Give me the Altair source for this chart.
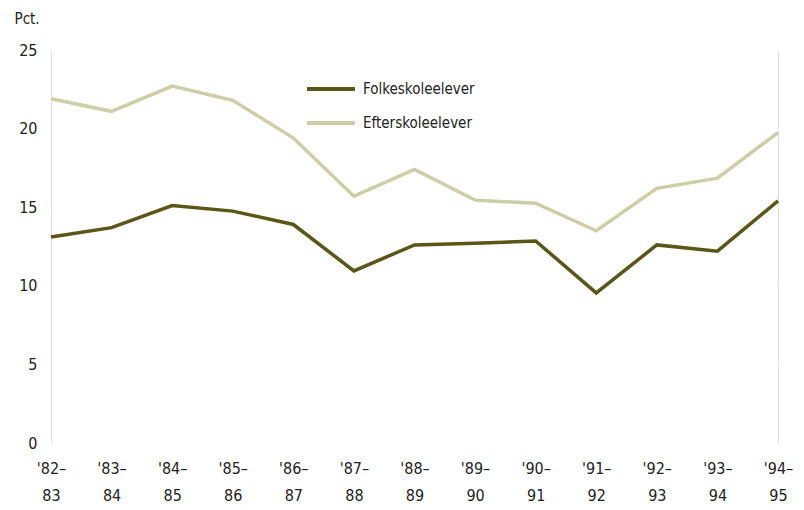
import altair as alt
import pandas as pd

periods = ["'82–83", "'83–84", "'84–85", "'85–86", "'86–87", "'87–88", "'88–89",
           "'89–90", "'90–91", "'91–92", "'92–93", "'93–94", "'94–95"]
folkeskole = [13.1, 13.7, 15.1, 14.75, 13.9, 10.95, 12.6, 12.7, 12.85, 9.55, 12.6, 12.2, 15.4]
efterskole = [21.9, 21.1, 22.7, 21.8, 19.4, 15.7, 17.4, 15.45, 15.25, 13.5, 16.2, 16.85, 19.75]
series = ["Folkeskoleelever", "Efterskoleelever"]
colors = ["#5b5617", "#cdcda6"]

rows = []
for i, p in enumerate(periods):
    rows.append({"periode": p, "serie": series[0], "pct": folkeskole[i], "ord": i})
    rows.append({"periode": p, "serie": series[1], "pct": efterskole[i], "ord": i})
df = pd.DataFrame(rows)

FONT = "DejaVu Sans Condensed, Liberation Sans, sans-serif"

chart = alt.Chart(df).mark_line(strokeWidth=3.5).encode(
    x=alt.X("periode:N", sort=periods, scale=alt.Scale(type="point", padding=0),
            axis=alt.Axis(title=None, labelAngle=0, ticks=False, domain=False, grid=False,
                          labelExpr="[substring(datum.label,0,4), substring(datum.label,4)]",
                          labelFontSize=16, labelFont=FONT, labelColor="#222",
                          labelPadding=17, labelLineHeight=27)),
    y=alt.Y("pct:Q", scale=alt.Scale(domain=[0, 25]),
            axis=alt.Axis(values=[0, 5, 10, 15, 20, 25], title="Pct.", titleAngle=0,
                          titleX=-37, titleY=-24, titleAlign="left", titleFont=FONT,
                          titleFontSize=15, titleFontWeight="normal", titleColor="#222",
                          ticks=False, domain=False, gridColor="white", gridWidth=2.5,
                          labelFontSize=16, labelFont=FONT, labelColor="#222", labelPadding=14)),
    color=alt.Color("serie:N", sort=series,
                    scale=alt.Scale(domain=series, range=colors),
                    legend=alt.Legend(title=None, orient="none", legendX=254, legendY=13,
                                      symbolType="stroke", symbolStrokeWidth=4, symbolSize=2304,
                                      labelFont=FONT, labelFontSize=15, labelColor="#222",
                                      rowPadding=-18, labelOffset=6)),
    order="ord:Q",
).properties(
    width=727, height=393,
    padding={"left": 43, "top": 42, "right": 18, "bottom": 62},
    autosize=alt.AutoSizeParams(type="none"),
).configure_view(fill="#ebebeb", stroke="transparent", strokeWidth=0).configure(background="white")

chart.save("out.html", embed_options={"renderer": "svg", "actions": False})
